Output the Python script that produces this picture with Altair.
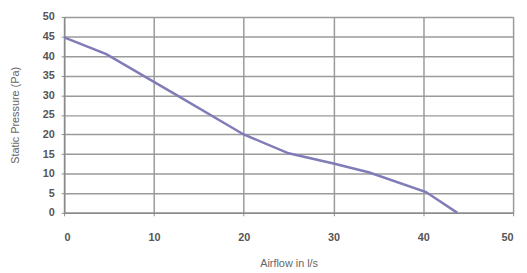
import altair as alt
import pandas as pd

airflow = [0, 4.7, 12.2, 20, 25, 30, 34, 40.3, 43.8]
pressure = [44.8, 40.5, 30.5, 20, 15.2, 12.6, 10.3, 5.3, 0]

df = pd.DataFrame({"airflow": airflow, "pressure": pressure})

chart = alt.Chart(df).mark_line(color="#7f7cb8", strokeWidth=2.5).encode(
    x=alt.X("airflow:Q", title="Airflow in l/s",
            scale=alt.Scale(domain=[0, 50], nice=False),
            axis=alt.Axis(values=[0, 10, 20, 30, 40, 50], labelPadding=16,
                          titlePadding=15, tickSize=3)),
    y=alt.Y("pressure:Q", title="Static Pressure (Pa)",
            scale=alt.Scale(domain=[0, 50], nice=False),
            axis=alt.Axis(values=list(range(0, 51, 5)), labelPadding=7,
                          titlePadding=22, tickSize=3)),
).properties(
    width=456, height=199,
    autosize=alt.AutoSizeParams(type="none"),
    padding={"left": 57, "top": 7, "right": 6, "bottom": 57},
).configure_view(stroke=None).configure_axis(
    gridColor="#9a9a9a", gridWidth=1.5, gridOpacity=1,
    domainColor="#8a8a8a", domainWidth=1.5, tickColor="#8a8a8a",
    labelFont="Liberation Sans", labelFontWeight="bold", labelFontSize=11,
    labelColor="#555555",
    titleFont="Liberation Sans", titleFontWeight="normal", titleFontSize=11,
    titleColor="#666666",
)

chart.save("out.html", embed_options={"renderer": "svg", "actions": False})
